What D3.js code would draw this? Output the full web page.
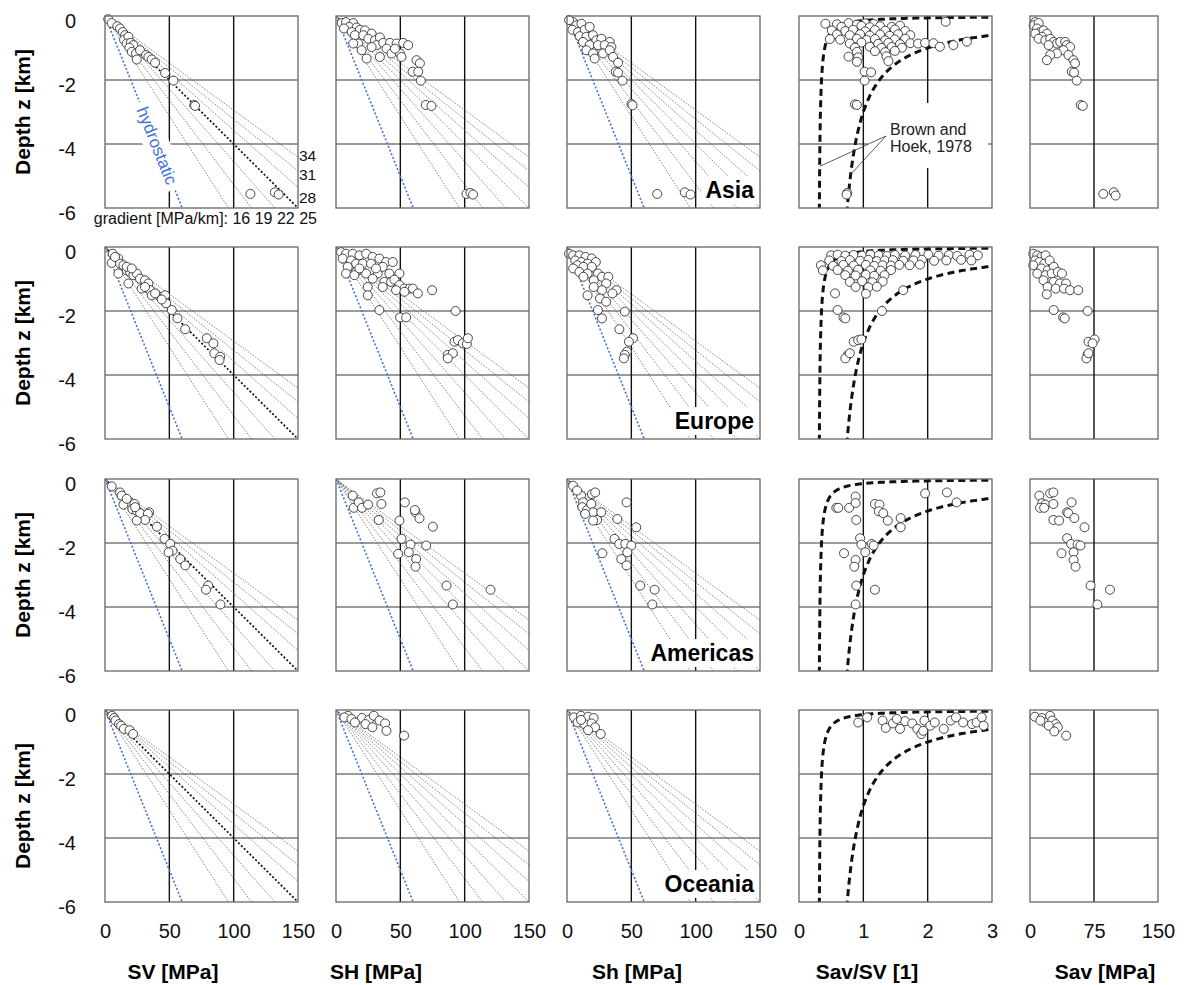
<!DOCTYPE html>
<html>
<head>
<meta charset="utf-8">
<title>Stress vs depth by region</title>
<script src="https://cdn.jsdelivr.net/npm/d3@7"></script>
<style>
  body { margin: 0; background: #fff; }
  svg text { font-family: "Liberation Sans", Arial, Helvetica, sans-serif; }
</style>
</head>
<body>
<svg id="chart"></svg>
<script>
// Set up SVG dimensions
const width = 1187;
const height = 985;

// Categories, ticks and reference lines
const regions = ["Asia", "Europe", "Americas", "Oceania"];
const depthTicks = [0, -2, -4, -6];
const stressTicks = [0, 50, 100, 150];
const ratioTicks = [0, 1, 2, 3];
const savTicks = [0, 75, 150];
const gradients = [16, 19, 22, 25, 28, 31, 34];      // MPa/km
const gradientLabelsRight = [34, 31, 28];
const hydrostaticGradient = 10;                       // MPa/km
const brownHoek = [{ a: 100, b: 0.3 }, { a: 1500, b: 0.5 }]; // k = a / z[m] + b

// Measurements: [value, depth z in km]
const asiaSV = [[2.5,-0.10],[5.2,-0.22],[9.6,-0.32],[11.7,-0.39],[13.8,-0.50],[15.6,-0.60],[14.8,-0.74],[18.2,-0.65],[16.9,-0.86],[20.0,-0.84],[22.0,-0.91],[18.9,-0.99],[20.8,-1.12],[24.1,-1.17],[24.7,-1.36],[27.2,-1.07],[31.9,-1.22],[33.7,-1.28],[36.3,-1.36],[38.9,-1.46],[46.7,-1.78],[53.2,-2.02],[69.3,-2.78],[70.0,-2.81],[113,-5.56],[132,-5.51],[135,-5.58]];
const asiaSH = [[4.4,-0.22],[7.8,-0.19],[13.4,-0.22],[10.3,-0.34],[16.0,-0.36],[6.2,-0.39],[12.2,-0.50],[18.6,-0.43],[22.5,-0.45],[14.7,-0.60],[21.2,-0.60],[27.7,-0.55],[25.1,-0.71],[17.3,-0.86],[30.3,-0.76],[34.1,-0.67],[31.5,-0.91],[36.7,-0.84],[41.9,-0.84],[47.1,-0.86],[52.2,-0.84],[56.1,-0.91],[39.3,-1.02],[43.2,-1.17],[49.7,-1.17],[23.8,-1.33],[34.1,-1.28],[50.9,-1.28],[19.9,-1.07],[13.4,-0.86],[27.7,-0.97],[45.8,-1.02],[62.6,-1.38],[65.2,-1.48],[59.5,-1.74],[63.9,-1.74],[65.9,-2.02],[69.8,-2.78],[74.2,-2.81],[101.4,-5.56],[104.5,-5.53],[106.5,-5.58]];
const asiaSh = [[4.7,-0.19],[1.6,-0.13],[7.3,-0.29],[11.2,-0.24],[4.2,-0.43],[8.6,-0.50],[13.8,-0.43],[17.6,-0.34],[9.9,-0.63],[15.1,-0.65],[12.5,-0.81],[20.2,-0.60],[22.8,-0.76],[26.7,-0.71],[33.2,-0.81],[17.6,-0.91],[24.1,-0.91],[29.3,-0.91],[34.5,-0.97],[15.1,-1.07],[20.2,-1.17],[28.0,-1.17],[21.5,-1.33],[33.2,-1.07],[35.8,-1.28],[39.7,-1.46],[37.9,-1.74],[39.7,-1.77],[43.1,-2.02],[50.1,-2.75],[50.9,-2.79],[70.1,-5.56],[91.6,-5.51],[96.0,-5.58]];
const asiaRatio = [[0.41,-0.24],[0.59,-0.26],[0.77,-0.22],[0.90,-0.27],[1.03,-0.23],[1.16,-0.25],[0.66,-0.34],[0.97,-0.31],[1.10,-0.35],[1.26,-0.32],[1.44,-0.34],[1.57,-0.30],[0.51,-0.45],[0.72,-0.47],[0.84,-0.43],[1.03,-0.48],[1.18,-0.44],[1.34,-0.46],[1.49,-0.42],[1.65,-0.47],[0.59,-0.58],[0.79,-0.60],[0.95,-0.57],[1.10,-0.61],[1.26,-0.58],[1.41,-0.62],[1.54,-0.57],[1.73,-0.60],[0.48,-0.72],[0.64,-0.74],[0.90,-0.71],[1.05,-0.75],[1.18,-0.72],[1.34,-0.76],[1.49,-0.73],[1.65,-0.71],[0.79,-0.86],[0.97,-0.83],[1.23,-0.87],[1.39,-0.84],[1.57,-0.88],[1.73,-0.85],[1.85,-0.86],[1.96,-0.84],[2.09,-0.85],[0.87,-0.99],[1.10,-0.96],[1.28,-1.00],[1.44,-0.97],[1.60,-0.99],[2.19,-0.96],[2.40,-0.91],[0.90,-1.12],[1.18,-1.10],[1.34,-1.13],[1.49,-1.09],[0.77,-1.27],[0.92,-1.29],[1.36,-1.26],[0.90,-1.43],[1.39,-1.41],[2.28,-0.18],[2.61,-0.80],[1.02,-1.74],[1.12,-1.76],[1.02,-2.02],[0.87,-2.76],[0.90,-2.78],[0.75,-5.53],[0.74,-5.58]];
const asiaSav = [[6.2,-0.19],[4.3,-0.29],[10.1,-0.22],[8.2,-0.39],[12.0,-0.50],[6.2,-0.55],[15.9,-0.45],[19.8,-0.55],[14.0,-0.65],[10.1,-0.71],[17.9,-0.76],[23.7,-0.71],[27.6,-0.81],[31.5,-0.86],[21.8,-0.91],[35.4,-0.81],[41.2,-0.81],[43.1,-0.91],[47.0,-0.97],[39.2,-1.07],[31.5,-1.17],[23.7,-1.22],[19.8,-1.38],[45.1,-1.22],[50.9,-1.38],[52.8,-1.48],[49.0,-1.74],[51.7,-1.77],[54.8,-2.02],[59.5,-2.78],[61.8,-2.81],[85.9,-5.56],[98.3,-5.51],[100.3,-5.61]];

const europeSV = [[6.0,-0.21],[5.2,-0.50],[10.4,-0.36],[11.7,-0.52],[14.3,-0.57],[16.9,-0.73],[10.4,-0.83],[19.5,-0.78],[22.1,-0.88],[24.7,-0.83],[18.2,-1.14],[27.2,-0.99],[31.1,-1.04],[33.7,-1.14],[28.5,-1.30],[35.0,-1.35],[36.3,-1.51],[42.8,-1.56],[46.7,-1.51],[47.5,-1.76],[51.9,-1.97],[56.3,-2.23],[62.3,-2.57],[79.1,-2.85],[84.3,-3.01],[84.9,-3.32],[89.5,-3.43],[89.0,-3.53],[16.9,-0.62],[7.8,-0.31],[20.8,-0.67],[31.1,-1.25],[38.9,-1.45],[44.1,-1.64]];
const europeSH = [[3.9,-0.16],[7.8,-0.21],[13.0,-0.21],[18.2,-0.26],[23.4,-0.21],[28.5,-0.31],[33.7,-0.36],[38.9,-0.47],[44.1,-0.47],[5.2,-0.36],[11.7,-0.42],[15.6,-0.52],[20.8,-0.52],[27.2,-0.52],[9.1,-0.62],[15.6,-0.78],[23.4,-0.83],[32.4,-0.83],[7.8,-0.83],[14.3,-0.88],[28.5,-0.99],[36.3,-0.62],[41.5,-0.83],[49.3,-0.83],[37.6,-1.09],[42.8,-1.09],[45.4,-1.02],[49.3,-1.19],[53.2,-1.30],[57.1,-1.30],[59.7,-1.30],[63.6,-1.45],[24.7,-1.25],[24.7,-1.51],[33.7,-1.97],[49.8,-2.20],[54.5,-2.20],[74.7,-1.35],[92.9,-2.00],[92.1,-2.96],[94.7,-2.91],[98.6,-3.01],[101.7,-3.03],[102.5,-2.85],[86.9,-3.37],[90.8,-3.32],[86.9,-3.48],[18.2,-0.67],[31.1,-0.67],[36.3,-1.25],[46.7,-1.35],[53.2,-1.40]];
const europeSh = [[1.6,-0.21],[4.8,-0.26],[9.6,-0.26],[14.4,-0.31],[19.2,-0.36],[22.4,-0.47],[6.4,-0.42],[11.2,-0.47],[16.0,-0.52],[8.0,-0.57],[12.8,-0.62],[4.8,-0.67],[19.2,-0.62],[9.6,-0.78],[16.0,-0.83],[24.0,-0.83],[27.2,-0.93],[12.8,-0.93],[20.8,-1.04],[32.1,-0.93],[30.4,-1.14],[38.5,-1.35],[27.2,-1.35],[35.3,-1.45],[16.0,-1.51],[20.8,-1.25],[25.6,-1.61],[30.4,-1.71],[24.0,-1.97],[27.2,-2.23],[44.9,-2.02],[40.7,-2.57],[51.3,-2.85],[48.1,-2.96],[46.5,-3.27],[44.9,-3.37],[44.2,-3.48]];
const europeRatio = [[0.50,-0.26],[0.60,-0.24],[0.72,-0.27],[0.85,-0.25],[0.98,-0.27],[1.11,-0.24],[1.24,-0.26],[1.37,-0.28],[1.49,-0.25],[1.65,-0.27],[1.81,-0.25],[2.01,-0.24],[2.17,-0.27],[2.33,-0.25],[2.46,-0.28],[2.65,-0.24],[2.78,-0.26],[0.47,-0.42],[0.66,-0.44],[0.79,-0.41],[0.95,-0.43],[1.08,-0.40],[1.21,-0.44],[1.33,-0.42],[1.46,-0.41],[1.62,-0.43],[1.78,-0.42],[1.91,-0.40],[2.10,-0.43],[2.29,-0.42],[2.52,-0.40],[2.68,-0.42],[0.34,-0.57],[0.53,-0.59],[0.69,-0.56],[0.85,-0.58],[1.04,-0.56],[1.17,-0.59],[1.30,-0.57],[1.43,-0.58],[1.56,-0.56],[1.72,-0.57],[1.88,-0.55],[0.37,-0.73],[0.60,-0.72],[0.76,-0.74],[0.92,-0.71],[1.11,-0.73],[1.27,-0.74],[1.43,-0.72],[0.72,-0.88],[0.88,-0.89],[1.04,-0.87],[1.17,-0.90],[1.33,-0.88],[0.79,-1.09],[0.98,-1.07],[1.14,-1.10],[1.30,-1.08],[0.88,-1.25],[1.08,-1.26],[1.21,-1.24],[1.62,-1.35],[0.56,-1.45],[1.04,-1.46],[0.60,-1.97],[0.69,-2.20],[0.72,-2.23],[1.29,-2.00],[0.85,-2.96],[0.92,-2.91],[0.97,-2.89],[0.76,-3.37],[0.72,-3.48],[0.79,-3.32]];
const europeSav = [[3.8,-0.21],[8.6,-0.26],[13.4,-0.31],[18.2,-0.26],[6.2,-0.42],[11.0,-0.47],[16.8,-0.52],[23.0,-0.42],[3.8,-0.57],[13.4,-0.67],[20.6,-0.73],[27.8,-0.62],[8.6,-0.83],[18.2,-0.88],[25.4,-0.83],[32.6,-0.78],[37.4,-0.83],[15.8,-1.04],[27.8,-1.09],[35.0,-1.14],[42.2,-1.14],[20.6,-1.25],[30.2,-1.30],[39.8,-1.30],[46.9,-1.35],[56.5,-1.35],[19.6,-1.48],[27.8,-1.97],[38.8,-2.20],[40.7,-2.23],[67.5,-2.00],[68.5,-2.96],[75.7,-2.89],[73.3,-3.01],[67.5,-3.37],[66.1,-3.48],[68.5,-3.32]];

const americasSV = [[5.2,-0.23],[11.7,-0.42],[13.0,-0.52],[19.5,-0.73],[22.9,-0.78],[14.3,-0.80],[21.3,-0.94],[24.7,-0.99],[27.3,-1.07],[34.3,-1.04],[33.3,-1.09],[31.2,-1.28],[24.7,-1.30],[40.3,-1.49],[46.3,-1.87],[50.7,-2.03],[52.5,-2.24],[49.4,-2.29],[58.5,-2.50],[62.4,-2.70],[80.1,-3.33],[78.5,-3.46],[89.7,-3.92],[23.4,-0.88],[16.9,-0.62]];
const americasSH = [[13.0,-0.52],[13.8,-0.90],[17.6,-0.73],[20.2,-0.90],[24.9,-0.80],[31.9,-0.45],[34.5,-0.42],[35.3,-0.78],[33.2,-1.28],[53.5,-0.73],[61.8,-1.04],[61.3,-0.97],[64.9,-1.23],[75.3,-1.49],[49.3,-1.30],[50.9,-1.87],[57.9,-2.05],[70.1,-2.08],[48.3,-2.34],[56.6,-2.29],[62.3,-2.50],[61.8,-2.74],[85.9,-3.33],[120.1,-3.46],[90.8,-3.92]];
const americasSh = [[4.7,-0.21],[10.9,-0.52],[12.5,-0.73],[11.9,-0.88],[15.6,-0.97],[19.4,-0.47],[21.9,-0.42],[18.8,-0.78],[20.3,-1.04],[23.4,-1.28],[26.6,-1.04],[20.3,-1.30],[39.1,-1.25],[46.3,-0.73],[53.8,-1.51],[36.9,-1.87],[40.6,-2.03],[45.3,-2.03],[50.0,-2.08],[46.9,-2.29],[42.2,-2.50],[46.3,-2.70],[27.5,-2.32],[56.9,-3.33],[68.1,-3.46],[66.3,-3.92],[7.8,-0.36],[14.1,-1.09]];
const americasRatio = [[0.58,-0.90],[0.61,-0.90],[0.78,-0.90],[0.88,-0.55],[0.88,-0.75],[0.89,-1.28],[1.18,-0.78],[1.25,-0.80],[1.24,-1.01],[1.31,-1.07],[1.38,-1.30],[1.58,-1.22],[1.58,-1.51],[1.96,-0.45],[2.30,-0.42],[2.45,-0.73],[0.95,-1.85],[0.97,-2.05],[1.13,-2.03],[1.16,-2.08],[1.03,-2.29],[0.70,-2.32],[0.88,-2.53],[0.86,-2.74],[0.89,-3.33],[1.18,-3.46],[0.88,-3.92]];
const americasSav = [[10.9,-0.52],[23.7,-0.45],[27.4,-0.42],[14.2,-0.76],[18.0,-0.80],[11.8,-0.90],[16.6,-0.90],[27.4,-0.78],[27.4,-1.28],[34.1,-1.30],[43.5,-1.04],[44.9,-1.07],[48.7,-0.73],[52.0,-1.22],[63.9,-1.51],[43.5,-1.85],[48.2,-2.03],[55.8,-2.05],[59.1,-2.08],[51.1,-2.29],[36.9,-2.32],[51.1,-2.53],[53.4,-2.74],[71.0,-3.33],[93.7,-3.46],[79.0,-3.92]];

const oceaniaSV = [[5.5,-0.18],[7.1,-0.25],[8.2,-0.33],[10.9,-0.44],[12.5,-0.49],[14.7,-0.59],[19.1,-0.63],[21.8,-0.75]];
const oceaniaSH = [[9.3,-0.18],[6.5,-0.23],[12.0,-0.28],[20.2,-0.25],[25.6,-0.31],[29.4,-0.18],[33.8,-0.33],[38.2,-0.42],[14.7,-0.39],[22.9,-0.44],[28.3,-0.54],[39.2,-0.65],[52.9,-0.80]];
const oceaniaSh = [[5.5,-0.23],[10.9,-0.18],[16.4,-0.21],[20.7,-0.25],[8.2,-0.39],[13.6,-0.44],[19.1,-0.42],[21.8,-0.54],[16.4,-0.63],[26.2,-0.75],[10.9,-0.31]];
const oceaniaRatio = [[0.92,-0.39],[1.06,-0.23],[1.30,-0.33],[1.35,-0.56],[1.46,-0.42],[1.57,-0.59],[1.65,-0.35],[1.76,-0.42],[1.84,-0.59],[1.90,-0.75],[1.95,-0.33],[2.04,-0.49],[2.11,-0.39],[2.25,-0.59],[2.36,-0.33],[2.44,-0.23],[2.55,-0.39],[2.69,-0.44],[2.76,-0.39],[2.84,-0.23],[2.87,-0.49],[1.52,-0.28],[1.93,-0.65]];
const oceaniaSav = [[5.7,-0.21],[13.9,-0.25],[17.9,-0.39],[23.6,-0.18],[26.1,-0.33],[30.2,-0.44],[22.0,-0.49],[32.6,-0.54],[28.5,-0.67],[42.4,-0.80],[12.2,-0.33]];

const regionData = {
    Asia: [asiaSV, asiaSH, asiaSh, asiaRatio, asiaSav],
    Europe: [europeSV, europeSH, europeSh, europeRatio, europeSav],
    Americas: [americasSV, americasSH, americasSh, americasRatio, americasSav],
    Oceania: [oceaniaSV, oceaniaSH, oceaniaSh, oceaniaRatio, oceaniaSav]
};

// Panel layout
const panelH = 192;
const rowTop = [16, 247, 479, 710];
const columns = [
    { title: "SV [MPa]",   left: 105,  w: 193, domain: [0, 150], ticks: stressTicks, titleX: 173 },
    { title: "SH [MPa]",   left: 336,  w: 193, domain: [0, 150], ticks: stressTicks, titleX: 376 },
    { title: "Sh [MPa]",   left: 567,  w: 193, domain: [0, 150], ticks: stressTicks, titleX: 637 },
    { title: "Sav/SV [1]", left: 799,  w: 193, domain: [0, 3],   ticks: ratioTicks,  titleX: 867 },
    { title: "Sav [MPa]",  left: 1030, w: 128, domain: [0, 150], ticks: savTicks,    titleX: 1105 }
];

const svg = d3.select("#chart")
    .attr("width", width)
    .attr("height", height);

const defs = svg.append("defs");

const y = d3.scaleLinear().domain([0, -6]).range([0, panelH]);

regions.forEach((region, r) => {
    columns.forEach((col, c) => {
        const x = d3.scaleLinear().domain(col.domain).range([0, col.w]);
        const g = svg.append("g")
            .attr("transform", `translate(${col.left},${rowTop[r]})`);

        const clipId = `clip-${r}-${c}`;
        defs.append("clipPath").attr("id", clipId)
            .append("rect").attr("width", col.w).attr("height", panelH);

        // grid lines (inner ticks only)
        g.selectAll(".hgrid")
            .data(depthTicks.slice(1, -1))
            .enter().append("line")
            .attr("x1", 0).attr("x2", col.w)
            .attr("y1", d => y(d)).attr("y2", d => y(d))
            .attr("stroke", "#7a7a7a").attr("stroke-width", 1.3);

        g.selectAll(".vgrid")
            .data(col.ticks.slice(1, -1))
            .enter().append("line")
            .attr("x1", d => x(d)).attr("x2", d => x(d))
            .attr("y1", 0).attr("y2", panelH)
            .attr("stroke", "#111").attr("stroke-width", 1.4);

        const inner = g.append("g").attr("clip-path", `url(#${clipId})`);

        // stress-gradient fans
        if (c < 3) {
            inner.selectAll(".grad")
                .data(gradients)
                .enter().append("line")
                .attr("x1", x(0)).attr("y1", y(0))
                .attr("x2", d => x(d * Math.min(6, 150 / d)))
                .attr("y2", d => y(-Math.min(6, 150 / d)))
                .attr("stroke", d => (c === 0 && d === 25) ? "#111" : "#444")
                .attr("stroke-width", d => (c === 0 && d === 25) ? 1.7 : 0.65)
                .attr("stroke-dasharray", d => (c === 0 && d === 25) ? "2,2" : "1.5,1.5");

            inner.append("line")
                .attr("x1", x(0)).attr("y1", y(0))
                .attr("x2", x(hydrostaticGradient * 6)).attr("y2", y(-6))
                .attr("stroke", "#3f72d9")
                .attr("stroke-width", 1.6)
                .attr("stroke-dasharray", "2,2");
        }

        // hydrostatic label with white box
        if (r === 0 && c === 0) {
            const zl = 4.05;
            const px = x(hydrostaticGradient * zl), py = y(-zl);
            const angle = Math.atan2(y(-6) - y(0), x(60) - x(0)) * 180 / Math.PI;
            const lab = g.append("g").attr("transform", `translate(${px},${py}) rotate(${angle})`);
            lab.append("rect")
                .attr("x", -47).attr("y", -13).attr("width", 94).attr("height", 26)
                .attr("fill", "#fff");
            lab.append("text")
                .attr("text-anchor", "middle").attr("dy", "0.35em")
                .attr("font-size", 17).attr("fill", "#3f72d9")
                .text("hydrostatic");

            // gradient labels on the right edge and below the panel
            g.selectAll(".glab")
                .data(gradientLabelsRight)
                .enter().append("text")
                .attr("x", col.w + 1)
                .attr("y", d => y(-150 / d) + (34 - d) * 2 - 2)
                .attr("dy", "0.35em")
                .attr("font-size", 15.5).attr("fill", "#111")
                .text(d => d);
            g.append("text")
                .attr("x", col.w + 19).attr("y", panelH + 15.5)
                .attr("text-anchor", "end")
                .attr("font-size", 16).attr("fill", "#111")
                .text("gradient [MPa/km]: " + gradients.filter(d => d <= 25).join(" "));
        }

        // region label
        if (c === 2) {
            const t = g.append("text")
                .attr("x", col.w - 6).attr("y", panelH - 10)
                .attr("text-anchor", "end")
                .attr("font-size", 23).attr("font-weight", "bold").attr("fill", "#000")
                .text(region);
            const bb = t.node().getBBox();
            g.insert("rect", () => t.node())
                .attr("x", bb.x - 4).attr("y", bb.y - 1)
                .attr("width", col.w - 1 - (bb.x - 4)).attr("height", bb.height + 2)
                .attr("fill", "#fff");
        }

        // Brown and Hoek bounds
        if (c === 3) {
            const line = d3.line().x(d => x(d.k)).y(d => y(-d.z));
            brownHoek.forEach(bh => {
                const zMin = bh.a / (3.3 - bh.b) / 1000;
                const pts = d3.range(0, 1.0001, 0.004)
                    .map(t => zMin * Math.pow(6 / zMin, t))
                    .map(z => ({ z: z, k: bh.a / (z * 1000) + bh.b }));
                inner.append("path")
                    .attr("d", line(pts))
                    .attr("fill", "none")
                    .attr("stroke", "#111")
                    .attr("stroke-width", 3)
                    .attr("stroke-dasharray", "7,4.5");
            });

            if (r === 0) {
                g.append("rect")
                    .attr("x", 69).attr("y", 87).attr("width", 120).attr("height", 65)
                    .attr("fill", "#fff");
                const lab = g.append("text").attr("font-size", 16).attr("fill", "#222");
                lab.append("tspan").attr("x", 91).attr("y", 119).text("Brown and");
                lab.append("tspan").attr("x", 91).attr("y", 136).text("Hoek, 1978");
                const leaders = [{ bh: brownHoek[0], z: 4.7 }, { bh: brownHoek[1], z: 4.95 }];
                g.selectAll(".leader")
                    .data(leaders)
                    .enter().append("line")
                    .attr("x1", 87).attr("y1", 120)
                    .attr("x2", d => x(d.bh.a / (d.z * 1000) + d.bh.b))
                    .attr("y2", d => y(-d.z))
                    .attr("stroke", "#333").attr("stroke-width", 0.8);
            }
        }

        // data points
        g.selectAll(".pt")
            .data(regionData[region][c])
            .enter().append("circle")
            .attr("cx", d => x(d[0]))
            .attr("cy", d => y(d[1]))
            .attr("r", 4.5)
            .attr("fill", "#fff")
            .attr("stroke", "#333")
            .attr("stroke-width", 0.9);

        // frame
        g.append("rect")
            .attr("width", col.w).attr("height", panelH)
            .attr("fill", "none")
            .attr("stroke", "#666").attr("stroke-width", 1.3);

        // y axis labels on the first column
        if (c === 0) {
            const yAxis = d3.axisLeft(y).tickValues(depthTicks).tickSize(0).tickPadding(29)
                .tickFormat(d => String(d));
            g.append("g").call(yAxis)
                .attr("font-size", null).attr("font-family", null)
                .call(a => a.select(".domain").remove())
                .selectAll("text")
                .attr("dy", "0.55em")
                .attr("font-size", 20).attr("fill", "#111");

            svg.append("text")
                .attr("transform", `translate(30,${rowTop[r] + panelH / 2}) rotate(-90)`)
                .attr("text-anchor", "middle")
                .attr("font-size", 21).attr("font-weight", "bold")
                .text("Depth z [km]");
        }

        // x axis labels on the last row
        if (r === regions.length - 1) {
            const xAxis = d3.axisBottom(x).tickValues(col.ticks).tickSize(0).tickPadding(22)
                .tickFormat(d => String(d));
            g.append("g").attr("transform", `translate(0,${panelH})`).call(xAxis)
                .attr("font-size", null).attr("font-family", null)
                .call(a => a.select(".domain").remove())
                .selectAll("text")
                .attr("font-size", 20).attr("fill", "#111");

            svg.append("text")
                .attr("x", col.titleX).attr("y", 979)
                .attr("text-anchor", "middle")
                .attr("font-size", 21).attr("font-weight", "bold")
                .text(col.title);
        }
    });
});
</script>
</body>
</html>
